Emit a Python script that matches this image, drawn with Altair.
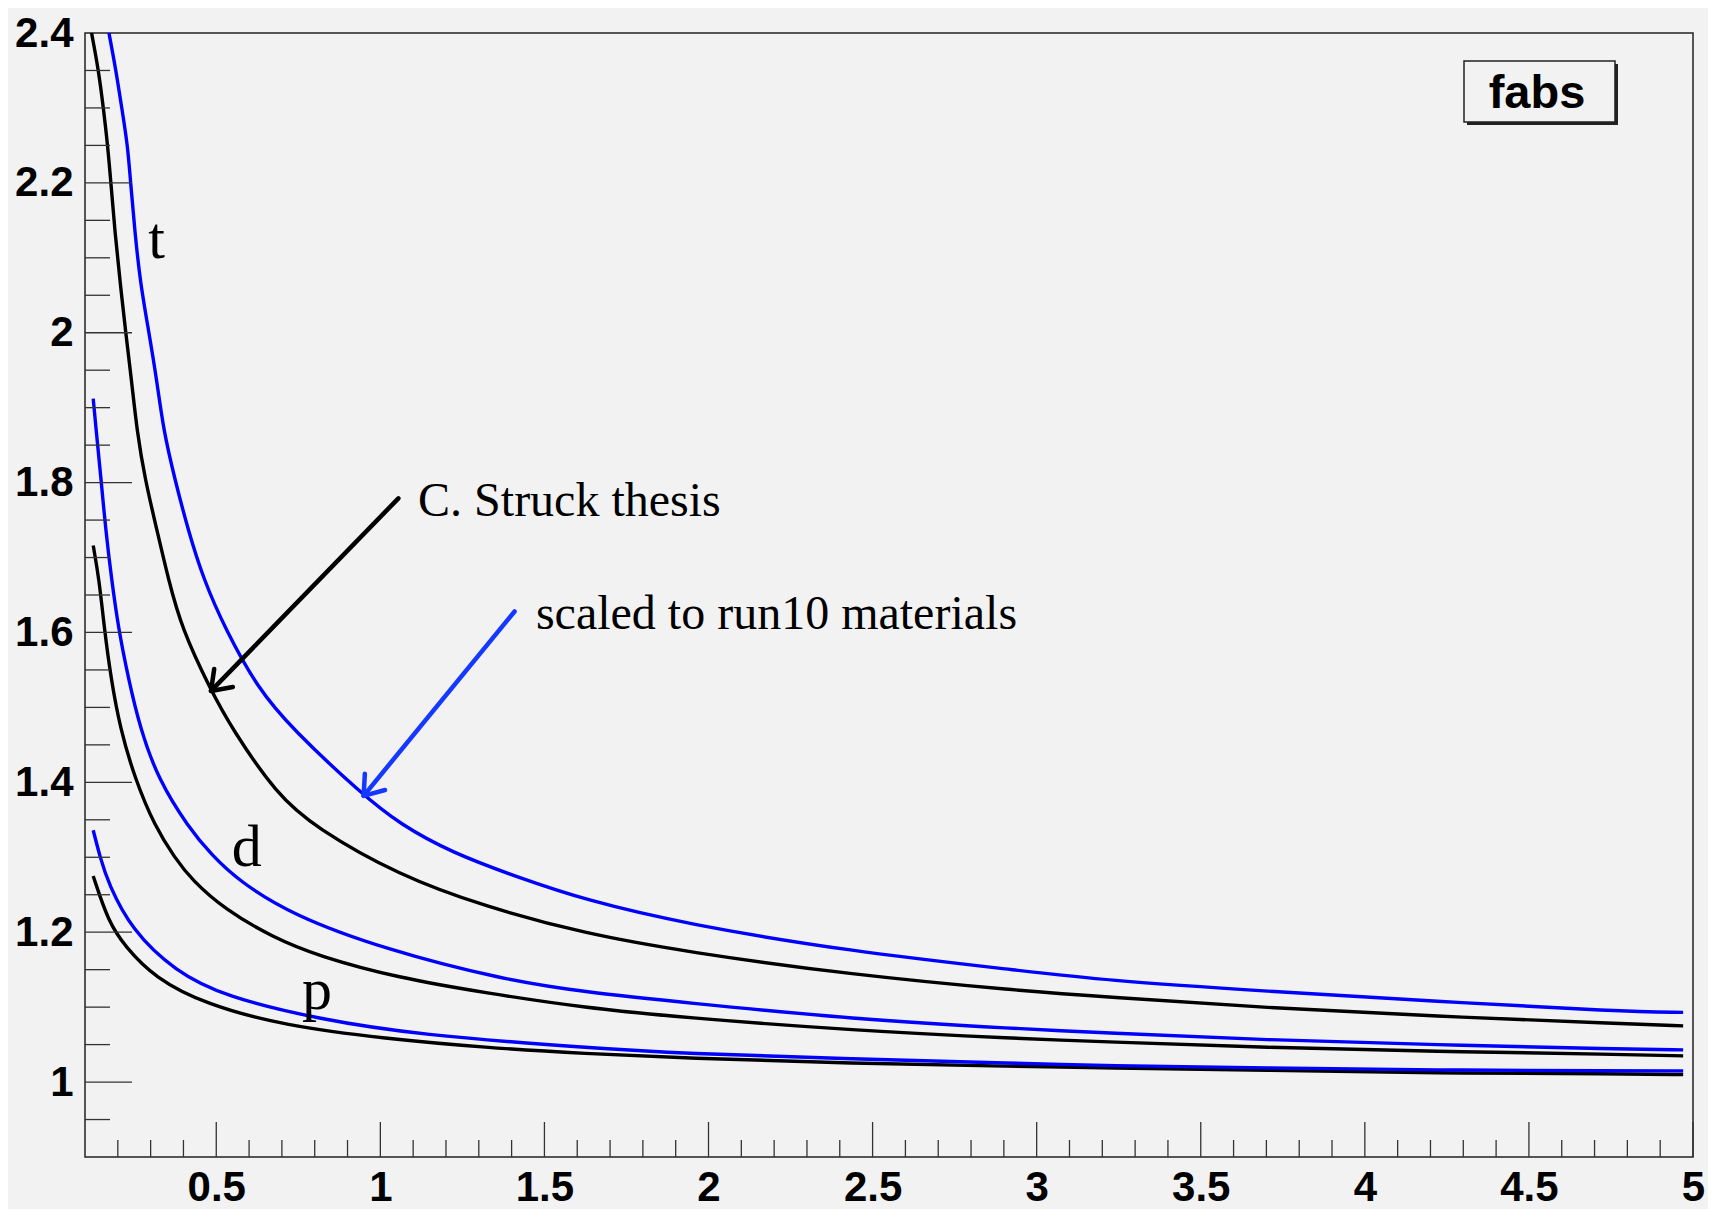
import altair as alt
import pandas as pd

# ---------------- data ----------------
t_black_x = [0.120, 0.141, 0.156, 0.169, 0.179, 0.191, 0.207, 0.224, 0.242, 0.258, 0.283, 0.319, 0.354, 0.395,
             0.481, 0.547, 0.684, 0.801, 1.055, 1.320, 1.624, 1.929, 2.438, 2.946, 3.200, 3.703, 4.211, 4.780, 4.970]
t_black_y = [2.400, 2.351, 2.300, 2.250, 2.200, 2.135, 2.068, 2.000, 1.936, 1.870, 1.804, 1.737, 1.671, 1.605,
             1.525, 1.472, 1.384, 1.340, 1.276, 1.234, 1.198, 1.174, 1.143, 1.122, 1.114, 1.099, 1.088, 1.078, 1.075]

t_blue_x = [0.173, 0.194, 0.212, 0.230, 0.239, 0.252, 0.268, 0.295, 0.319, 0.339, 0.374, 0.414, 0.461, 0.527,
            0.627, 0.730, 0.944, 1.060, 1.218, 1.421, 1.624, 1.929, 2.438, 2.946, 3.200, 3.703, 4.211, 4.780, 4.970]
t_blue_y = [2.400, 2.351, 2.300, 2.250, 2.200, 2.135, 2.068, 2.000, 1.936, 1.870, 1.804, 1.737, 1.671, 1.605,
            1.525, 1.472, 1.384, 1.344, 1.306, 1.273, 1.243, 1.211, 1.174, 1.149, 1.136, 1.121, 1.108, 1.094, 1.093]

d_black_x = [0.125, 0.143, 0.159, 0.179, 0.207, 0.252, 0.313, 0.374, 0.425, 0.527, 0.669, 0.811, 1.055, 1.320,
             1.624, 1.929, 2.438, 2.946, 3.200, 3.703, 4.211, 4.780, 4.970]
d_black_y = [1.716, 1.671, 1.605, 1.539, 1.472, 1.405, 1.341, 1.299, 1.270, 1.230, 1.194, 1.168, 1.139, 1.119,
             1.099, 1.086, 1.069, 1.058, 1.054, 1.046, 1.041, 1.037, 1.035]

d_blue_x = [0.125, 0.134, 0.149, 0.163, 0.181, 0.202, 0.232, 0.268, 0.323, 0.415, 0.486, 0.567, 0.730, 1.015,
            1.370, 1.624, 1.929, 2.438, 2.946, 3.200, 3.703, 4.211, 4.780, 4.970]
d_blue_y = [1.912, 1.870, 1.804, 1.737, 1.671, 1.605, 1.539, 1.472, 1.404, 1.340, 1.303, 1.269, 1.223, 1.177,
            1.137, 1.120, 1.106, 1.084, 1.071, 1.066, 1.056, 1.050, 1.044, 1.043]

p_black_x = [0.125, 0.171, 0.222, 0.313, 0.466, 0.710, 1.015, 1.320, 1.624, 1.929, 2.438, 2.946, 3.200, 3.703,
             4.211, 4.780, 4.970]
p_black_y = [1.275, 1.214, 1.181, 1.139, 1.104, 1.075, 1.058, 1.046, 1.038, 1.032, 1.025, 1.021, 1.019, 1.016,
             1.012, 1.011, 1.010]

p_blue_x = [0.125, 0.146, 0.171, 0.242, 0.374, 0.527, 0.811, 1.116, 1.624, 1.929, 2.438, 2.946, 3.200, 3.703,
            4.211, 4.780, 4.970]
p_blue_y = [1.336, 1.300, 1.265, 1.203, 1.148, 1.114, 1.084, 1.063, 1.046, 1.038, 1.031, 1.025, 1.022, 1.019,
            1.016, 1.015, 1.015]

x_tick_labels = [0.5, 1, 1.5, 2, 2.5, 3, 3.5, 4, 4.5, 5]
y_tick_labels = [1, 1.2, 1.4, 1.6, 1.8, 2, 2.2, 2.4]

# annotations
note_text = ["C. Struck thesis", "scaled to run10 materials"]
note_x = [1.115, 1.474]
note_y = [1.755, 1.605]
particle_text = ["t", "d", "p"]
particle_x = [0.293, 0.547, 0.761]
particle_y = [2.100, 1.288, 1.098]
arrow_x = [1.055, 1.409]
arrow_y = [1.779, 1.628]
arrow_x2 = [0.484, 0.949]
arrow_y2 = [1.522, 1.382]
arrow_color = ["#000000", "#1438ff"]
arrow_angle = [134, 129]

# ---------------- tables ----------------
BLACK, BLUE = "#000000", "#0000ff"
series = [("t_black", t_black_x, t_black_y, BLACK), ("d_black", d_black_x, d_black_y, BLACK),
          ("p_black", p_black_x, p_black_y, BLACK), ("t_blue", t_blue_x, t_blue_y, BLUE),
          ("d_blue", d_blue_x, d_blue_y, BLUE), ("p_blue", p_blue_x, p_blue_y, BLUE)]
rows = []
for name, xs, ys, col in series:
    for i, (a, b) in enumerate(zip(xs, ys)):
        rows.append({"x": a, "y": b, "series": name, "color": col, "order": i})
df = pd.DataFrame(rows)
df_black = df[df["color"] == BLACK]
df_blue = df[df["color"] == BLUE]

notes = pd.DataFrame({"x": note_x, "y": note_y, "label": note_text})
parts = pd.DataFrame({"x": particle_x, "y": particle_y, "label": particle_text})
arrows = pd.DataFrame({"x": arrow_x, "y": arrow_y, "x2": arrow_x2, "y2": arrow_y2,
                       "color": arrow_color, "ang": arrow_angle})

y_major = [v for v in y_tick_labels if v < 2.4]
y_minor = [round(0.9 + 0.05 * i, 2) for i in range(1, 30)]
y_minor = [v for v in y_minor if all(abs(v - m) > 1e-6 for m in y_tick_labels)]
x_major = x_tick_labels
x_minor = [round(0.1 * i, 1) for i in range(2, 50)]
x_minor = [v for v in x_minor if all(abs(v - m) > 1e-6 for m in x_major)]

W, H = 1608, 1124
XS = alt.Scale(domain=[0.1, 5], nice=False, zero=False)
YS = alt.Scale(domain=[0.9, 2.4], nice=False, zero=False)

x_axis = alt.Axis(values=x_tick_labels, format="~g", labelFontSize=42, labelFont="Liberation Sans",
                  labelFontWeight="bold", labelColor="#000000", ticks=False, tickSize=0, domain=False,
                  grid=False, labelPadding=10, labelFlush=False, labelOverlap=False, labelBound=False,
                  title=None)
y_axis = alt.Axis(values=y_tick_labels, format="~g", labelFontSize=42, labelFont="Liberation Sans",
                  labelFontWeight="bold", labelColor="#000000", ticks=False, tickSize=0, domain=False,
                  grid=False, labelPadding=12, labelFlush=False, labelOverlap=False, labelBound=False,
                  title=None)


def X(field):
    return alt.X(field, scale=XS, axis=x_axis, title=None)


def Y(field):
    return alt.Y(field, scale=YS, axis=y_axis, title=None)


black_lines = alt.Chart(df_black).mark_line(strokeWidth=3.4, interpolate="basis", clip=True).encode(
    x=X("x:Q"), y=Y("y:Q"),
    color=alt.Color("color:N", scale=None),
    detail="series:N",
    order="order:Q",
)
blue_lines = alt.Chart(df_blue).mark_line(strokeWidth=3.4, interpolate="basis", clip=True).encode(
    x=X("x:Q"), y=Y("y:Q"),
    color=alt.Color("color:N", scale=None),
    detail="series:N",
    order="order:Q",
)

tick_col = "#333333"
ymaj = alt.Chart(pd.DataFrame({"v": y_major})).mark_rule(color=tick_col, strokeWidth=1.3).encode(
    y=Y("v:Q"), x=alt.value(0), x2=alt.value(47))
ymin = alt.Chart(pd.DataFrame({"v": y_minor})).mark_rule(color=tick_col, strokeWidth=1.3).encode(
    y=Y("v:Q"), x=alt.value(0), x2=alt.value(25))
xmaj = alt.Chart(pd.DataFrame({"v": x_major})).mark_rule(color=tick_col, strokeWidth=1.3).encode(
    x=X("v:Q"), y=alt.value(H), y2=alt.value(H - 35))
xmin = alt.Chart(pd.DataFrame({"v": x_minor})).mark_rule(color=tick_col, strokeWidth=1.3).encode(
    x=X("v:Q"), y=alt.value(H), y2=alt.value(H - 17))

arrow_lines = alt.Chart(arrows).mark_rule(strokeWidth=4.5, strokeCap="round").encode(
    x=X("x:Q"), y=Y("y:Q"),
    x2="x2:Q", y2="y2:Q", color=alt.Color("color:N", scale=None))
arrow_heads = alt.Chart(arrows).mark_point(
    shape="M -1 -0.72 L 0 0 L -1 0.72", filled=False, size=1300, strokeWidth=4.5,
    strokeJoin="round", strokeCap="round", opacity=1).encode(
    x=X("x2:Q"), y=Y("y2:Q"),
    angle=alt.Angle("ang:Q", scale=None), color=alt.Color("color:N", scale=None))

note_marks = alt.Chart(notes).mark_text(font="Liberation Serif", fontSize=48, align="left",
                                        baseline="alphabetic", color="#000000").encode(
    x=X("x:Q"), y=Y("y:Q"), text="label:N")
part_marks = alt.Chart(parts).mark_text(font="Liberation Serif", fontSize=60, align="left",
                                        baseline="alphabetic", color="#000000").encode(
    x=X("x:Q"), y=Y("y:Q"), text="label:N")

# "fabs" title box (ROOT style pave with shadow)
box = pd.DataFrame({"label": ["fabs"]})
shadow = alt.Chart(box).mark_rect(color="#222222").encode(
    x=alt.value(1382), x2=alt.value(1533), y=alt.value(31), y2=alt.value(92))
pave = alt.Chart(box).mark_rect(fill="#f2f2f2", stroke="#222222", strokeWidth=1.5).encode(
    x=alt.value(1379), x2=alt.value(1530), y=alt.value(28), y2=alt.value(89))
pave_text = alt.Chart(box).mark_text(font="Liberation Sans", fontWeight="bold", fontSize=47,
                                     align="center", baseline="alphabetic", color="#000000").encode(
    x=alt.value(1452), y=alt.value(75), text="label:N")

chart = alt.layer(
    black_lines, blue_lines, ymin, ymaj, xmin, xmaj, arrow_lines, arrow_heads,
    note_marks, part_marks, shadow, pave, pave_text
).properties(
    width=W, height=H,
    autosize=alt.AutoSizeParams(type="none"),
    padding={"left": 77, "top": 25, "right": 15, "bottom": 52},
    background="#f2f2f2",
).configure_view(stroke="#222222", strokeWidth=1.5)

chart.save("out.html", embed_options={"renderer": "svg", "actions": False})
